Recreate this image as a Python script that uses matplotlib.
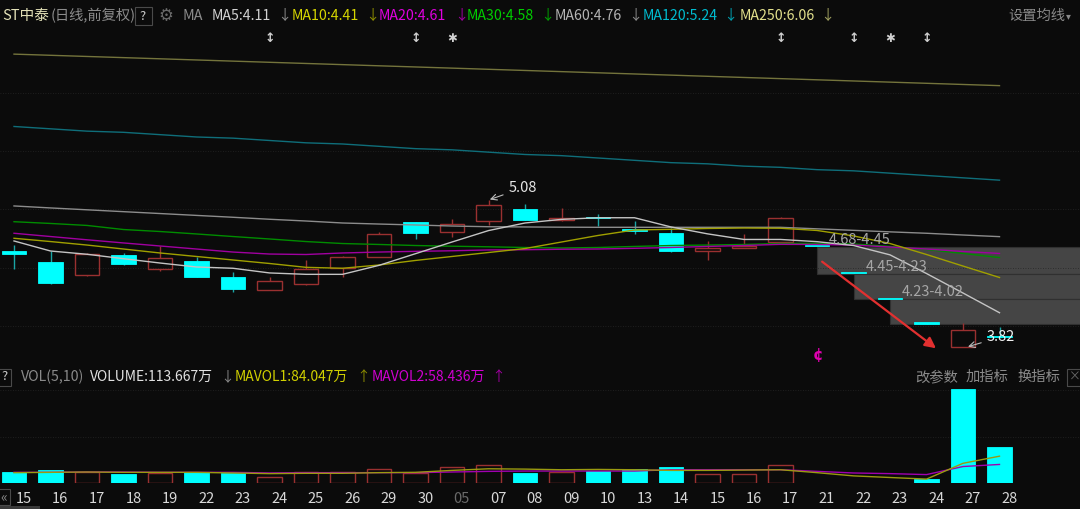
import numpy as np
import matplotlib
matplotlib.use("Agg")
import matplotlib.pyplot as plt
from matplotlib.patches import Rectangle
from matplotlib.transforms import blended_transform_factory

plt.rcParams['font.family'] = ['Noto Sans CJK SC', 'DejaVu Sans']

W, H = 1080, 509
BG = '#0b0b0b'
UP = '#9a3030'
DOWN = '#00ffff'
DOWN_WICK = '#1aa5a5'

# ---- data ----
dates = ['15', '16', '17', '18', '19', '22', '23', '24', '25', '26', '29', '30', '05', '07',
         '08', '09', '10', '13', '14', '15', '16', '17', '21', '22', '23', '24', '27', '28']
opens = [4.646, 4.55, 4.44, 4.61, 4.49, 4.56, 4.42, 4.31, 4.36, 4.50, 4.59, 4.89, 4.81, 4.90,
         5.00, 4.905, 4.93, 4.835, 4.795, 4.645, 4.665, 4.72, 4.69, 4.46, 4.235, 4.025, 3.82, 3.91]
highs = [4.694, 4.64, 4.63, 4.63, 4.69, 4.595, 4.46, 4.42, 4.57, 4.60, 4.81, 4.895, 4.92, 5.08,
         5.045, 5.015, 4.96, 4.90, 4.84, 4.73, 4.785, 4.935, 4.69, 4.46, 4.235, 4.025, 4.026, 3.99]
lows = [4.49, 4.36, 4.43, 4.52, 4.475, 4.42, 4.295, 4.305, 4.355, 4.42, 4.59, 4.745, 4.76, 4.87,
        4.905, 4.90, 4.86, 4.785, 4.635, 4.57, 4.665, 4.72, 4.685, 4.455, 4.23, 4.02, 3.82, 3.90]
closes = [4.617, 4.37, 4.62, 4.53, 4.58, 4.42, 4.32, 4.39, 4.49, 4.59, 4.79, 4.80, 4.875, 5.035,
          4.91, 4.93, 4.925, 4.815, 4.64, 4.665, 4.69, 4.93, 4.685, 4.455, 4.23, 4.02, 3.966, 3.905]

ma5 = [4.729, 4.643, 4.615, 4.577, 4.54, 4.506, 4.495, 4.455, 4.443, 4.443, 4.52, 4.62, 4.72, 4.818,
       4.883, 4.914, 4.928, 4.928, 4.849, 4.79, 4.742, 4.742, 4.723, 4.69, 4.61, 4.45, 4.283, 4.114]
ma10 = [4.752, 4.724, 4.694, 4.66, 4.626, 4.596, 4.566, 4.536, 4.503, 4.495, 4.523, 4.562, 4.596, 4.63,
        4.664, 4.72, 4.776, 4.823, 4.829, 4.836, 4.84, 4.838, 4.819, 4.772, 4.707, 4.613, 4.514, 4.416]
ma20 = [4.795, 4.767, 4.739, 4.712, 4.686, 4.66, 4.634, 4.617, 4.613, 4.626, 4.634, 4.64, 4.645, 4.652,
        4.654, 4.658, 4.66, 4.666, 4.673, 4.682, 4.69, 4.70, 4.699, 4.694, 4.677, 4.66, 4.639, 4.622]
ma30 = [4.894, 4.879, 4.862, 4.827, 4.81, 4.789, 4.767, 4.746, 4.724, 4.707, 4.699, 4.69, 4.684, 4.679,
        4.673, 4.669, 4.673, 4.682, 4.69, 4.694, 4.699, 4.707, 4.709, 4.703, 4.682, 4.656, 4.622, 4.587]
ma60 = [5.029, 5.012, 4.996, 4.98, 4.964, 4.948, 4.932, 4.915, 4.90, 4.883, 4.874, 4.866, 4.857, 4.851,
        4.849, 4.847, 4.846, 4.846, 4.846, 4.846, 4.846, 4.846, 4.833, 4.82, 4.807, 4.795, 4.78, 4.766]
ma120 = [5.71, 5.69, 5.67, 5.66, 5.64, 5.62, 5.61, 5.59, 5.57, 5.56, 5.54, 5.52, 5.51, 5.49,
         5.47, 5.46, 5.44, 5.42, 5.40, 5.39, 5.37, 5.36, 5.34, 5.33, 5.31, 5.29, 5.27, 5.25]
ma250 = [6.33, 6.32, 6.31, 6.30, 6.29, 6.28, 6.27, 6.26, 6.25, 6.24, 6.23, 6.22, 6.21, 6.20,
         6.19, 6.18, 6.17, 6.16, 6.15, 6.14, 6.13, 6.12, 6.11, 6.10, 6.09, 6.08, 6.07, 6.06]

# volume in 万 shares
volumes = [35.3, 40.3, 34, 28, 32, 36, 31, 20, 34, 36, 45.5, 33, 51, 58,
           31, 35, 38.5, 45.5, 51, 30, 28, 56, 1.5, 1.2, 1.3, 12, 292, 113.667]
mavol1 = [33, 34, 35, 34, 34, 34, 32, 30, 31, 31, 33, 34, 40, 45,
          44, 42, 43, 42, 40, 40, 41, 42, 33, 23, 18, 13, 62, 84.047]
mavol2 = [34, 34, 35, 35, 34, 34, 34, 32, 33, 33, 33, 33, 35, 37,
          38, 38, 38, 38, 42, 42, 42, 42, 37, 32, 30, 27, 52, 58.436]

zone_hi = [4.68, 4.45, 4.23]
zone_lo = [4.45, 4.23, 4.02]
zone_start = [22, 23, 24]

flag_idx = [7, 11, 21, 23, 25]
star_idx = [12, 24]

# header: (x px, label, text colour, arrow x px, arrow colour)
ma_labels = [(212, 'MA5:4.11', '#d2d2d2', 277, '#8a8a8a'),
             (292, 'MA10:4.41', '#d6d600', 365, '#8c8c00'),
             (379, 'MA20:4.61', '#e000e0', 454, '#a000a0'),
             (467, 'MA30:4.58', '#00cc00', 540, '#00a000'),
             (555, 'MA60:4.76', '#b4b4b4', 628, '#8a8a8a'),
             (643, 'MA120:5.24', '#00bcd0', 723, '#009fb0'),
             (740, 'MA250:6.06', '#e2e08c', 820, '#a0a060')]

# ---- layout helpers ----
fig = plt.figure(figsize=(W / 100, H / 100), dpi=100, facecolor=BG)


def px_axes(left, top, right, bottom):
    ax = fig.add_axes([left / W, 1 - bottom / H, (right - left) / W, (bottom - top) / H])
    ax.set_facecolor(BG)
    for s in ax.spines.values():
        s.set_visible(False)
    return ax


def ftext(x, y, s, **kw):
    return fig.text(x / W, 1 - y / H, s, va='center', ha='left', **kw)


def fbox(x0, y0, w, h):
    fig.patches.append(Rectangle((x0 / W, 1 - (y0 + h) / H), w / W, h / H, transform=fig.transFigure,
                                 facecolor='none', edgecolor='#4a4a4a', lw=0.8))


x = np.arange(len(dates))
xlim = (-14 / 36.5, (W - 14) / 36.5)

# ---- price panel ----
ax = px_axes(0, 28, W, 368)
ax.set_xlim(*xlim)
ax.set_ylim(5.08 - 168 / 116.7, 5.08 + 172 / 116.7)
ax.set_xticks([])
ax.set_yticks([4.0, 4.5, 5.0, 5.5, 6.0])
ax.tick_params(left=False, labelleft=False)
ax.grid(axis='y', color='#262626', lw=0.6, ls=(0, (1, 2)))

for lo, hi, st in zip(zone_lo, zone_hi, zone_start):
    ax.add_patch(Rectangle((st, lo), 40, hi - lo, facecolor='#454545', edgecolor='#303030',
                           lw=0.8, zorder=1))
    ax.text(st + 0.33, hi, f'{hi:.2f}-{lo:.2f}', color='#a6a6a6', fontsize=10.5,
            va='bottom', ha='left', zorder=6)

bw = 0.66
for i, (o, h, l, c) in enumerate(zip(opens, highs, lows, closes)):
    top, bot = max(o, c), min(o, c)
    if c >= o:
        ax.vlines(i, top, h, color=UP, lw=1, zorder=2)
        ax.vlines(i, l, bot, color=UP, lw=1, zorder=2)
        ax.add_patch(Rectangle((i - bw / 2, bot), bw, top - bot, facecolor='none',
                               edgecolor=UP, lw=1, zorder=2))
    else:
        ax.vlines(i, l, h, color=DOWN_WICK, lw=1, zorder=2)
        ax.add_patch(Rectangle((i - bw / 2, bot), bw, max(top - bot, 0.012), facecolor=DOWN,
                               edgecolor=DOWN, lw=0.6, zorder=2))

ax.plot(x, ma250, color='#74743c', lw=1, zorder=3)
ax.plot(x, ma120, color='#0f6e7a', lw=1, zorder=3)
ax.plot(x, ma60, color='#8c8c8c', lw=1, zorder=3)
ax.plot(x, ma30, color='#008c00', lw=1, zorder=3)
ax.plot(x, ma20, color='#a000a0', lw=1, zorder=3)
ax.plot(x, ma10, color='#a0a000', lw=1, zorder=3)
ax.plot(x, ma5, color='#c4c4c4', lw=1, zorder=3)

# high / low callouts
hi_i = int(np.argmax(highs))
lo_i = int(np.argmin(lows))
ax.annotate(f'{highs[hi_i]:.2f}', xy=(hi_i, highs[hi_i]), xytext=(20, 12), textcoords='offset pixels',
            color='#e6e6e6', fontsize=10.5, va='center', ha='left',
            arrowprops=dict(arrowstyle='->', color='#bbbbbb', lw=0.8, shrinkA=2, shrinkB=1))
ax.annotate(f'{lows[lo_i]:.2f}', xy=(lo_i + 0.1, lows[lo_i]), xytext=(20, 10), textcoords='offset pixels',
            color='#f0f0f0', fontsize=10.5, va='center', ha='left', zorder=7,
            arrowprops=dict(arrowstyle='->', color='#bbbbbb', lw=0.8, shrinkA=2, shrinkB=1))

# red trend arrow
ax.annotate('', xy=(25.32, 3.795), xytext=(22.08, 4.566),
            arrowprops=dict(arrowstyle='-|>', color='#e23030', lw=1.6, mutation_scale=16), zorder=8)
ax.text(22.03, 3.75, '¢', color='#e000b0', fontsize=11, ha='center', va='center', fontweight='bold',
        family='DejaVu Sans')

# top event markers
tr = blended_transform_factory(ax.transData, ax.transAxes)
for i in flag_idx:
    ax.text(i, 0.97, '↕', transform=tr, color='#d0d0d0', fontsize=9, ha='center', va='center',
            fontweight='bold', family='DejaVu Sans')
for i in star_idx:
    ax.text(i, 0.97, '✱', transform=tr, color='#d0d0d0', fontsize=8.5, ha='center', va='center',
            family='DejaVu Sans')

# ---- volume panel ----
av = px_axes(0, 385, W, 483.3)
av.set_xlim(*xlim)
av.set_ylim(0, 98.3 * 3.1)
av.set_yticks([144, 289])
av.tick_params(left=False, labelleft=False)
av.grid(axis='y', color='#262626', lw=0.6, ls=(0, (1, 2)))
for i, v in enumerate(volumes):
    # volume colour follows close vs previous close
    up = closes[i] >= (closes[i - 1] if i > 0 else opens[i])
    if up:
        av.add_patch(Rectangle((i - bw / 2, 0), bw, v, facecolor='none', edgecolor=UP, lw=1, zorder=2))
    else:
        av.add_patch(Rectangle((i - bw / 2, 0), bw, max(v, 1.2), facecolor=DOWN, edgecolor=DOWN,
                               lw=0.6, zorder=2))
av.plot(x, mavol2, color='#a000b0', lw=1, zorder=3)
av.plot(x, mavol1, color='#9a9a10', lw=1, zorder=3)

av.set_xticks(x + 0.27)
av.set_xticklabels(dates, fontsize=10.5)
av.tick_params(axis='x', length=0, pad=6, colors='#d8d8d8')
av.get_xticklabels()[12].set_color('#6a6a6a')

# ---- header texts ----
ftext(2, 16, 'ST中泰', color='#e4e2b8', fontsize=10.5)
ftext(51, 16, '(日线,前复权)', color='#8c8c8c', fontsize=10.3)
fbox(135, 7, 17, 18)
ftext(139, 16, '?', color='#c8c8c8', fontsize=9.5)
ftext(158, 16, '⚙', color='#6a6a6a', fontsize=12, family='DejaVu Sans')
ftext(182, 16, 'MA', color='#8c8c8c', fontsize=10.3)
for xp, lab, c1, ax_x, c2 in ma_labels:
    ftext(xp, 16, lab, color=c1, fontsize=10.2)
    ftext(ax_x, 16, '↓', color=c2, fontsize=10.2)
ftext(1008, 16, '设置均线', color='#8a8a8a', fontsize=10.3)
ftext(1066, 16, '▾', color='#8a8a8a', fontsize=7)

# volume header
fbox(-4, 369, 15, 17)
ftext(1, 377, '?', color='#c8c8c8', fontsize=9.5)
ftext(21, 377, 'VOL(5,10)', color='#8a8a8a', fontsize=10.2)
ftext(90, 377, f'VOLUME:{volumes[-1]:.3f}万', color='#e0e0e0', fontsize=10)
ftext(220, 377, '↓', color='#8a8a8a', fontsize=10)
ftext(235, 377, f'MAVOL1:{mavol1[-1]:.3f}万', color='#d0d000', fontsize=10)
ftext(356, 377, '↑', color='#8c8c00', fontsize=10)
ftext(372, 377, f'MAVOL2:{mavol2[-1]:.3f}万', color='#d000d0', fontsize=10)
ftext(491, 377, '↑', color='#a000a0', fontsize=10)
ftext(915, 377, '改参数', color='#8a8a8a', fontsize=10.3)
ftext(966, 377, '加指标', color='#8a8a8a', fontsize=10.3)
ftext(1017, 377, '换指标', color='#8a8a8a', fontsize=10.3)
fbox(1067, 369, 20, 17)
ftext(1069, 377, '×', color='#6a6a6a', fontsize=8.5)

# bottom-left scroll button
fbox(-2, 489, 12, 16)
ftext(0, 497, '«', color='#8a8a8a', fontsize=10)
fig.patches.append(Rectangle((0, 0), 40 / W, 3 / H, transform=fig.transFigure,
                             facecolor='#3a3a3a', edgecolor='none'))

fig.savefig('out.png', dpi=100, facecolor=BG)
